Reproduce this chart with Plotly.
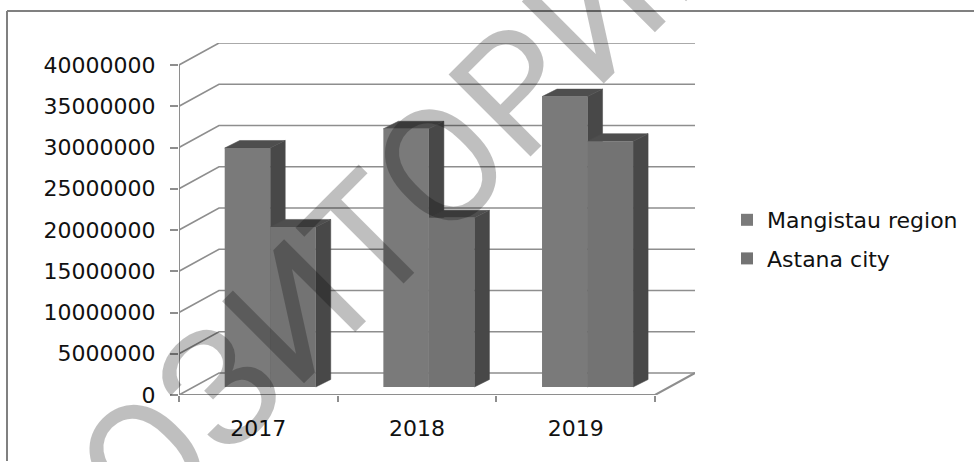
import plotly.graph_objects as go

years = ["2017", "2018", "2019"]
mangistau = [28970000, 31300000, 35200000]
astana = [19400000, 20500000, 29800000]
y_ticks = [0, 5000000, 10000000, 15000000, 20000000, 25000000, 30000000, 35000000, 40000000]
series_names = ["Mangistau region", "Astana city"]
watermark = "РЕПОЗИТОРИЙ"

# pseudo-3D projection, expressed in axis units
WALL_DX, WALL_DY = 0.2521, 2667000
BAR_DX, BAR_DY = 0.0945, 910000
BASE = 970000
BAR_W = 0.287
CENTER = 0.575
GRID = "#8e8e8e"
FRONT = ["#7a7a7a", "#737373"]
SIDE = "#484848"
TOP = "#4e4e4e"
L, R, T, B = 179, 695, 43, 395
W, H = 975, 462


def path(points):
    return "M" + " L".join(f"{x},{y}" for x, y in points)


def line(points, width=1.6, color=GRID):
    return dict(type="path", xref="x", yref="y", layer="below", path=path(points),
                line=dict(color=color, width=width))


def poly(points, color):
    return dict(type="path", xref="x", yref="y", layer="below", path=path(points) + " Z",
                fillcolor=color, line=dict(color=color, width=0.5))


def px(x, y):
    return (x - L) / (R - L), (B - y) / (B - T)


shapes = []
n = len(years)
for v in y_ticks:
    shapes.append(line([(0, v), (WALL_DX, v + WALL_DY), (n + WALL_DX, v + WALL_DY)]))
shapes.append(line([(0, 0), (n, 0), (n + WALL_DX, WALL_DY)], 2))
shapes.append(line([(0, 0), (0, y_ticks[-1])], 2))

for i in range(n):
    for s, vals in enumerate((mangistau, astana)):
        x0 = i + CENTER + (s - 1) * BAR_W
        x1 = x0 + BAR_W
        top = BASE + vals[i]
        shapes.append(poly([(x1, BASE), (x1 + BAR_DX, BASE + BAR_DY),
                            (x1 + BAR_DX, top + BAR_DY), (x1, top)], SIDE))
        shapes.append(poly([(x0, top), (x1, top), (x1 + BAR_DX, top + BAR_DY),
                            (x0 + BAR_DX, top + BAR_DY)], TOP))

# outer chart frame
fx0, fy0 = px(7, 11)
fx1, fy1 = px(974, 461)
for a, b in [((fx0, fy0), (fx1, fy0)), ((fx0, fy0), (fx0, fy1))]:
    shapes.append(dict(type="line", xref="paper", yref="paper", x0=a[0], y0=a[1], x1=b[0], y1=b[1],
                       line=dict(color="#808080", width=2)))

fig = go.Figure()
for s, (name, vals) in enumerate(zip(series_names, (mangistau, astana))):
    fig.add_trace(go.Bar(
        x=[i + CENTER + (s - 0.5) * BAR_W for i in range(n)],
        y=vals, base=BASE, width=BAR_W, name=name, legendgroup=name,
        marker=dict(color=FRONT[s], line=dict(width=0)),
    ))

wx, wy = px(302, 306)
annotations = [dict(xref="paper", yref="paper", x=wx, y=wy, text=watermark, showarrow=False,
                    textangle=-45, xanchor="center", yanchor="middle",
                    font=dict(family="Roboto", size=163, color="rgba(0,0,0,0.25)"))]

lx, ly = px(727, 199)
fig.update_layout(
    width=W, height=H, autosize=False,
    margin=dict(l=L, r=W - R, t=T, b=H - B),
    paper_bgcolor="white", plot_bgcolor="white",
    barmode="overlay", hovermode=False, shapes=shapes, annotations=annotations,
    font=dict(family="DejaVu Sans", size=22, color="#111111"),
    legend=dict(x=lx, y=ly, xanchor="left", yanchor="top", tracegroupgap=7,
                bgcolor="rgba(0,0,0,0)", font=dict(size=22), itemclick=False),
    xaxis=dict(range=[0, n + WALL_DX], tickvals=[i + 0.5 for i in range(n)], ticktext=years,
               ticks="", showgrid=False, zeroline=False, showline=False, ticklabelstandoff=18,
               minor=dict(tickvals=list(range(n + 1)), ticks="outside", ticklen=6,
                          tickcolor=GRID, tickwidth=2, showgrid=False)),
    yaxis=dict(range=[0, y_ticks[-1] + WALL_DY], tickvals=y_ticks, ticktext=[str(v) for v in y_ticks],
               ticks="outside", ticklen=8, tickcolor=GRID, tickwidth=2, showgrid=False,
               zeroline=False, showline=False, ticklabelstandoff=10),
)
fig.write_html("out.html", config=dict(displayModeBar=False),
               post_script="document.body.style.margin='0';")
